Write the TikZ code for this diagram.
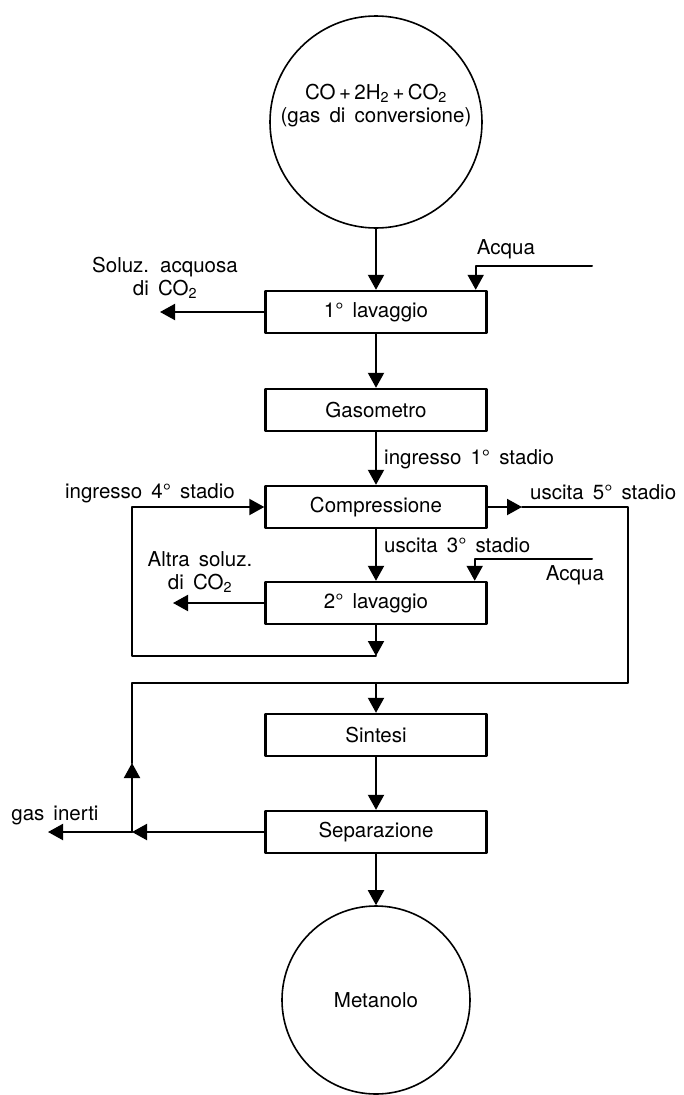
\documentclass[tikz,border=0pt]{standalone}
\usepackage{fontspec}
\setmainfont{TeX Gyre Heros}[WordSpace=1.6]
\usetikzlibrary{arrows.meta}

\begin{document}
\begin{tikzpicture}[
				x=1pt, y=-1pt,
				line cap=round,
				line join=round,
				every node/.style={font=\fontsize{20.5}{23}\selectfont},
				box/.style={draw, line width=2.4pt, minimum width=221pt, minimum height=42pt, inner sep=0pt},
				vessel/.style={draw, circle, line width=1.6pt, inner sep=0pt, align=center},
				txt/.style={inner sep=0pt, align=center},
				pipe/.style={line width=2pt},
				flow/.style={pipe, -{Triangle[length=15pt, width=16pt]}}
				]
				\useasboundingbox (0,0) rectangle (683,1095);
				
				% Vessels
				\node[vessel, minimum size=212pt] (gas) at (376,122) {CO\,+\,2H\textsubscript{2}\,+\,CO\textsubscript{2}\\(gas di conversione)\\[14pt]};
				\node[vessel, minimum size=188pt] (meta) at (376,1000) {Metanolo};
				
				% Stages
				\node[box] (lav1) at (376,312) {1° lavaggio};
				\node[box] (gasom) at (376,410) {Gasometro};
				\node[box] (compr) at (376,507) {Compressione};
				\node[box] (lav2) at (376,603) {2° lavaggio};
				\node[box] (sintesi) at (376,735) {Sintesi};
				\node[box] (separ) at (376,832) {Separazione};
				
				% Free ends and bends
				\coordinate (acq1) at (592,266);
				\coordinate (sol1) at (160,312);
				\coordinate (acq2) at (592,559);
				\coordinate (sol2) at (173,603);
				\coordinate (loopc) at (376,656);
				\coordinate (l4) at (132,656);
				\coordinate (u5) at (522,507);
				\coordinate (r5) at (628,507);
				\coordinate (mix) at (376,683);
				\coordinate (gij) at (132,832);
				\coordinate (ricup) at (132,763);
				\coordinate (inerti) at (48,832);
				
				% Main line
				\draw[flow] (gas) -- (lav1);
				\draw[flow] (lav1) -- (gasom);
				\draw[flow] (gasom) -- (compr);
				\draw[flow] (compr) -- (lav2);
				\draw[flow] (mix) -- (sintesi);
				\draw[flow] (sintesi) -- (separ);
				\draw[flow] (separ) -- (meta);
				
				% Water in, solutions out
				\draw[flow] (acq1) -| ([xshift=-12pt]lav1.north east);
				\draw[flow] (lav1.west) -- (sol1);
				\draw[flow] (acq2) -| ([xshift=-13pt]lav2.north east);
				\draw[flow] (lav2.west) -- (sol2);
				
				% Return to 4th stage
				\draw[flow] (lav2) -- (loopc);
				\draw[flow] (loopc) -- (l4) |- (compr.west);
				
				% 5th stage out to synthesis
				\draw[flow] (compr.east) -- (u5);
				\draw[pipe] (u5) -- (r5) |- (mix);
				
				% Recycle and inert gas
				\draw[flow] (separ.west) -- (gij);
				\draw[flow] (gij) -- (inerti);
				\draw[flow] (gij) -- (ricup);
				\draw[pipe] (ricup) |- (mix);
				
				% Labels
				\node[txt] (tacq1) at (506,249) {Acqua};
				\node[txt] (tsol1) at (165,278) {Soluz. acquosa\\di CO\textsubscript{2}};
				\node[txt, anchor=west] (ting1) at (384,459) {ingresso 1° stadio};
				\node[txt, anchor=east] (ting4) at (235,493) {ingresso 4° stadio};
				\node[txt, anchor=west] (tusc5) at (530,492) {uscita 5° stadio};
				\node[txt, anchor=west] (tusc3) at (384,545) {uscita 3° stadio};
				\node[txt] (tacq2) at (575,575) {Acqua};
				\node[txt] (tsol2) at (200,572) {Altra soluz.\\di CO\textsubscript{2}};
				\node[txt] (tinerti) at (55,815) {gas inerti};
			\end{tikzpicture}
\end{document}
